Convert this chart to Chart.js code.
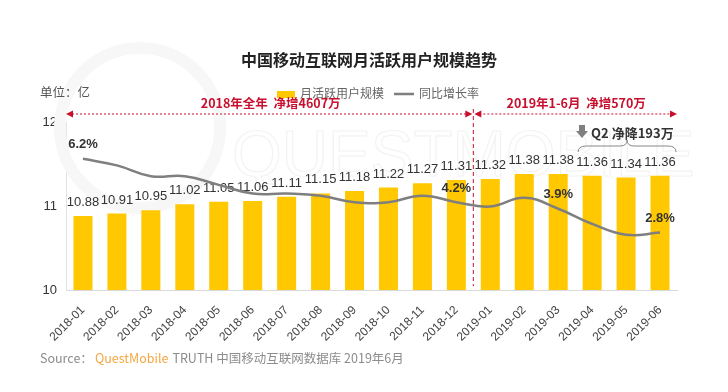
<!DOCTYPE html>
<html lang="zh-CN">
<head>
<meta charset="UTF-8">
<title>中国移动互联网月活跃用户规模趋势</title>
<script src="https://cdn.jsdelivr.net/npm/chart.js@4.4.1/dist/chart.umd.min.js"></script>
<style>
  html, body { margin: 0; padding: 0; background: #fff; }
  #wrap { width: 728px; height: 392px; }
</style>
</head>
<body>
<div id="wrap"><canvas id="myChart" width="728" height="392"></canvas></div>
<script>
const months = ['2018-01','2018-02','2018-03','2018-04','2018-05','2018-06','2018-07','2018-08','2018-09',
                '2018-10','2018-11','2018-12','2019-01','2019-02','2019-03','2019-04','2019-05','2019-06'];
const users = [10.88,10.91,10.95,11.02,11.05,11.06,11.11,11.15,11.18,11.22,11.27,11.31,11.32,11.38,11.38,11.36,11.34,11.36];
const growth = [6.2,5.9,5.4,5.4,5.0,4.6,4.6,4.5,4.2,4.2,4.5,4.2,4.0,4.4,3.9,3.2,2.7,2.8];
const growthShown = [0, 11, 14, 17];
const yTicks = [10, 11, 12];

const CN = '"Noto Sans CJK SC", "Noto Sans", sans-serif';
const NUM = '"Liberation Sans", Arial, sans-serif';
const RED = '#c8102e';

function arrowHead(ctx, x, y, dir) {
  ctx.beginPath();
  ctx.moveTo(x, y);
  ctx.lineTo(x - dir * 7, y - 3.5);
  ctx.lineTo(x - dir * 7, y + 3.5);
  ctx.closePath();
  ctx.fill();
}

const decor = {
  id: 'decor',
  beforeDatasetsDraw(chart) {
    const ctx = chart.ctx;
    ctx.save();
    // faint watermark
    ctx.strokeStyle = '#f7f7f7';
    ctx.lineWidth = 12;
    ctx.beginPath();
    ctx.arc(140, 128, 80, 0, Math.PI * 2);
    ctx.stroke();
    ctx.font = '300 64px ' + NUM;
    ctx.lineWidth = 1.2;
    ctx.strokeStyle = '#f3f3f3';
    ctx.textBaseline = 'alphabetic';
    ctx.textAlign = 'left';
    ctx.strokeText('QUESTMOBILE', 232, 176);
    ctx.restore();
  },
  afterDatasetDraw(chart, args) {
    if (args.index !== 0) return;
    const ctx = chart.ctx;
    ctx.save();
    ctx.font = '13px ' + NUM;
    ctx.fillStyle = '#333';
    ctx.textAlign = 'center';
    ctx.textBaseline = 'bottom';
    args.meta.data.forEach((bar, i) => {
      ctx.fillText(users[i].toFixed(2), bar.x, bar.y - 7);
    });
    ctx.restore();
  },
  afterDatasetsDraw(chart) {
    const ctx = chart.ctx;
    const meta = chart.getDatasetMeta(1);
    ctx.save();
    ctx.font = 'bold 13px ' + NUM;
    ctx.fillStyle = '#333';
    ctx.textAlign = 'center';
    ctx.textBaseline = 'middle';
    growthShown.forEach(i => {
      const p = meta.data[i];
      ctx.fillText(growth[i].toFixed(1) + '%', p.x, p.y - 14);
    });
    ctx.restore();
  },
  afterDraw(chart) {
    const ctx = chart.ctx;
    const area = chart.chartArea;
    const x = chart.scales.x;
    ctx.save();

    // title
    ctx.fillStyle = '#222';
    ctx.font = 'bold 16px ' + CN;
    ctx.textAlign = 'center';
    ctx.textBaseline = 'middle';
    ctx.fillText('中国移动互联网月活跃用户规模趋势', 369, 60);

    // unit
    ctx.font = '12.5px ' + CN;
    ctx.fillStyle = '#555';
    ctx.textAlign = 'left';
    ctx.fillText('单位：亿', 40, 92);

    // legend
    ctx.fillStyle = '#ffc800';
    ctx.fillRect(277, 91, 18, 7);
    ctx.fillStyle = '#666';
    ctx.font = '12px ' + CN;
    ctx.fillText('月活跃用户规模', 300, 93);
    ctx.strokeStyle = '#7f7f7f';
    ctx.lineWidth = 2.5;
    ctx.beginPath();
    ctx.moveTo(394, 94);
    ctx.lineTo(414, 94);
    ctx.stroke();
    ctx.fillText('同比增长率', 419, 93);

    // period arrows
    const mid = (x.getPixelForValue(11) + x.getPixelForValue(12)) / 2;
    const ay = 114;
    ctx.strokeStyle = RED;
    ctx.fillStyle = RED;
    ctx.lineWidth = 1;
    ctx.setLineDash([2, 2]);
    ctx.beginPath();
    ctx.moveTo(area.left + 6, ay); ctx.lineTo(mid - 6, ay);
    ctx.moveTo(mid + 6, ay); ctx.lineTo(area.right - 6, ay);
    ctx.stroke();
    ctx.setLineDash([4, 3]);
    ctx.beginPath();
    ctx.moveTo(mid, ay - 5); ctx.lineTo(mid, area.bottom - 4);
    ctx.stroke();
    ctx.setLineDash([]);
    arrowHead(ctx, area.left, ay, -1);
    arrowHead(ctx, mid - 1, ay, 1);
    arrowHead(ctx, mid + 1, ay, -1);
    arrowHead(ctx, area.right, ay, 1);

    ctx.font = 'bold 12.5px ' + CN;
    ctx.textAlign = 'center';
    ctx.fillText('2018年全年  净增4607万', (area.left + mid) / 2 + 1, 103);
    ctx.fillText('2019年1-6月  净增570万', (mid + area.right) / 2 + 1, 103);

    // Q2 note
    ctx.fillStyle = '#7f7f7f';
    ctx.fillRect(579, 125, 6, 7);
    ctx.beginPath();
    ctx.moveTo(576, 131); ctx.lineTo(588, 131); ctx.lineTo(582, 138); ctx.closePath();
    ctx.fill();
    ctx.fillStyle = '#333';
    ctx.font = 'bold 13px ' + CN;
    ctx.textAlign = 'left';
    ctx.fillText('Q2 净降193万', 591, 133);

    // brace
    const b0 = x.getPixelForValue(15) - 14;
    const b1 = x.getPixelForValue(17) + 16;
    const bm = (b0 + b1) / 2;
    ctx.strokeStyle = '#888';
    ctx.lineWidth = 1;
    ctx.beginPath();
    ctx.moveTo(b0, 152);
    ctx.quadraticCurveTo(b0, 146, b0 + 8, 146);
    ctx.lineTo(bm - 7, 146);
    ctx.quadraticCurveTo(bm, 146, bm, 140);
    ctx.quadraticCurveTo(bm, 146, bm + 7, 146);
    ctx.lineTo(b1 - 8, 146);
    ctx.quadraticCurveTo(b1, 146, b1, 152);
    ctx.stroke();

    // source
    ctx.textBaseline = 'middle';
    ctx.font = '12.5px ' + CN;
    ctx.fillStyle = '#8c8c8c';
    ctx.fillText('Source：', 40, 358);
    ctx.fillStyle = '#f4a742';
    ctx.fillText('QuestMobile', 95, 358);
    const w = ctx.measureText('QuestMobile').width;
    ctx.fillStyle = '#8c8c8c';
    ctx.fillText('TRUTH 中国移动互联网数据库 2019年6月', 95 + w + 4, 358);

    ctx.restore();
  }
};

new Chart(document.getElementById('myChart'), {
  data: {
    labels: months,
    datasets: [
      {
        type: 'bar',
        label: '月活跃用户规模',
        data: users,
        backgroundColor: '#ffc800',
        barPercentage: 0.56,
        categoryPercentage: 1,
        yAxisID: 'y',
        order: 2
      },
      {
        type: 'line',
        label: '同比增长率',
        data: growth,
        borderColor: '#7f7f7f',
        borderWidth: 2.5,
        pointRadius: 0,
        tension: 0.45,
        yAxisID: 'y1',
        order: 1
      }
    ]
  },
  options: {
    responsive: false,
    animation: false,
    layout: { padding: { left: 0, right: 51, top: 122, bottom: 0 } },
    plugins: { legend: { display: false }, tooltip: { enabled: false }, title: { display: false } },
    scales: {
      x: {
        grid: { display: false, drawTicks: false },
        border: { display: true, color: '#d9d9d9' },
        ticks: {
          color: '#444',
          font: { size: 12, family: NUM },
          maxRotation: 45,
          minRotation: 45,
          padding: 13,
          autoSkip: false
        },
        afterFit(s) { s.height = 102; }
      },
      y: {
        min: 10,
        max: 12,
        grid: { display: false, drawTicks: false },
        border: { display: true, color: '#e3e3e3' },
        afterBuildTicks(s) { s.ticks = yTicks.map(v => ({ value: v })); },
        ticks: { color: '#333', font: { size: 13, family: NUM }, padding: 9 },
        afterFit(s) { s.width = 66; }
      },
      y1: {
        display: false,
        min: 0.15,
        max: 7.9
      }
    }
  },
  plugins: [decor]
});
</script>
</body>
</html>
